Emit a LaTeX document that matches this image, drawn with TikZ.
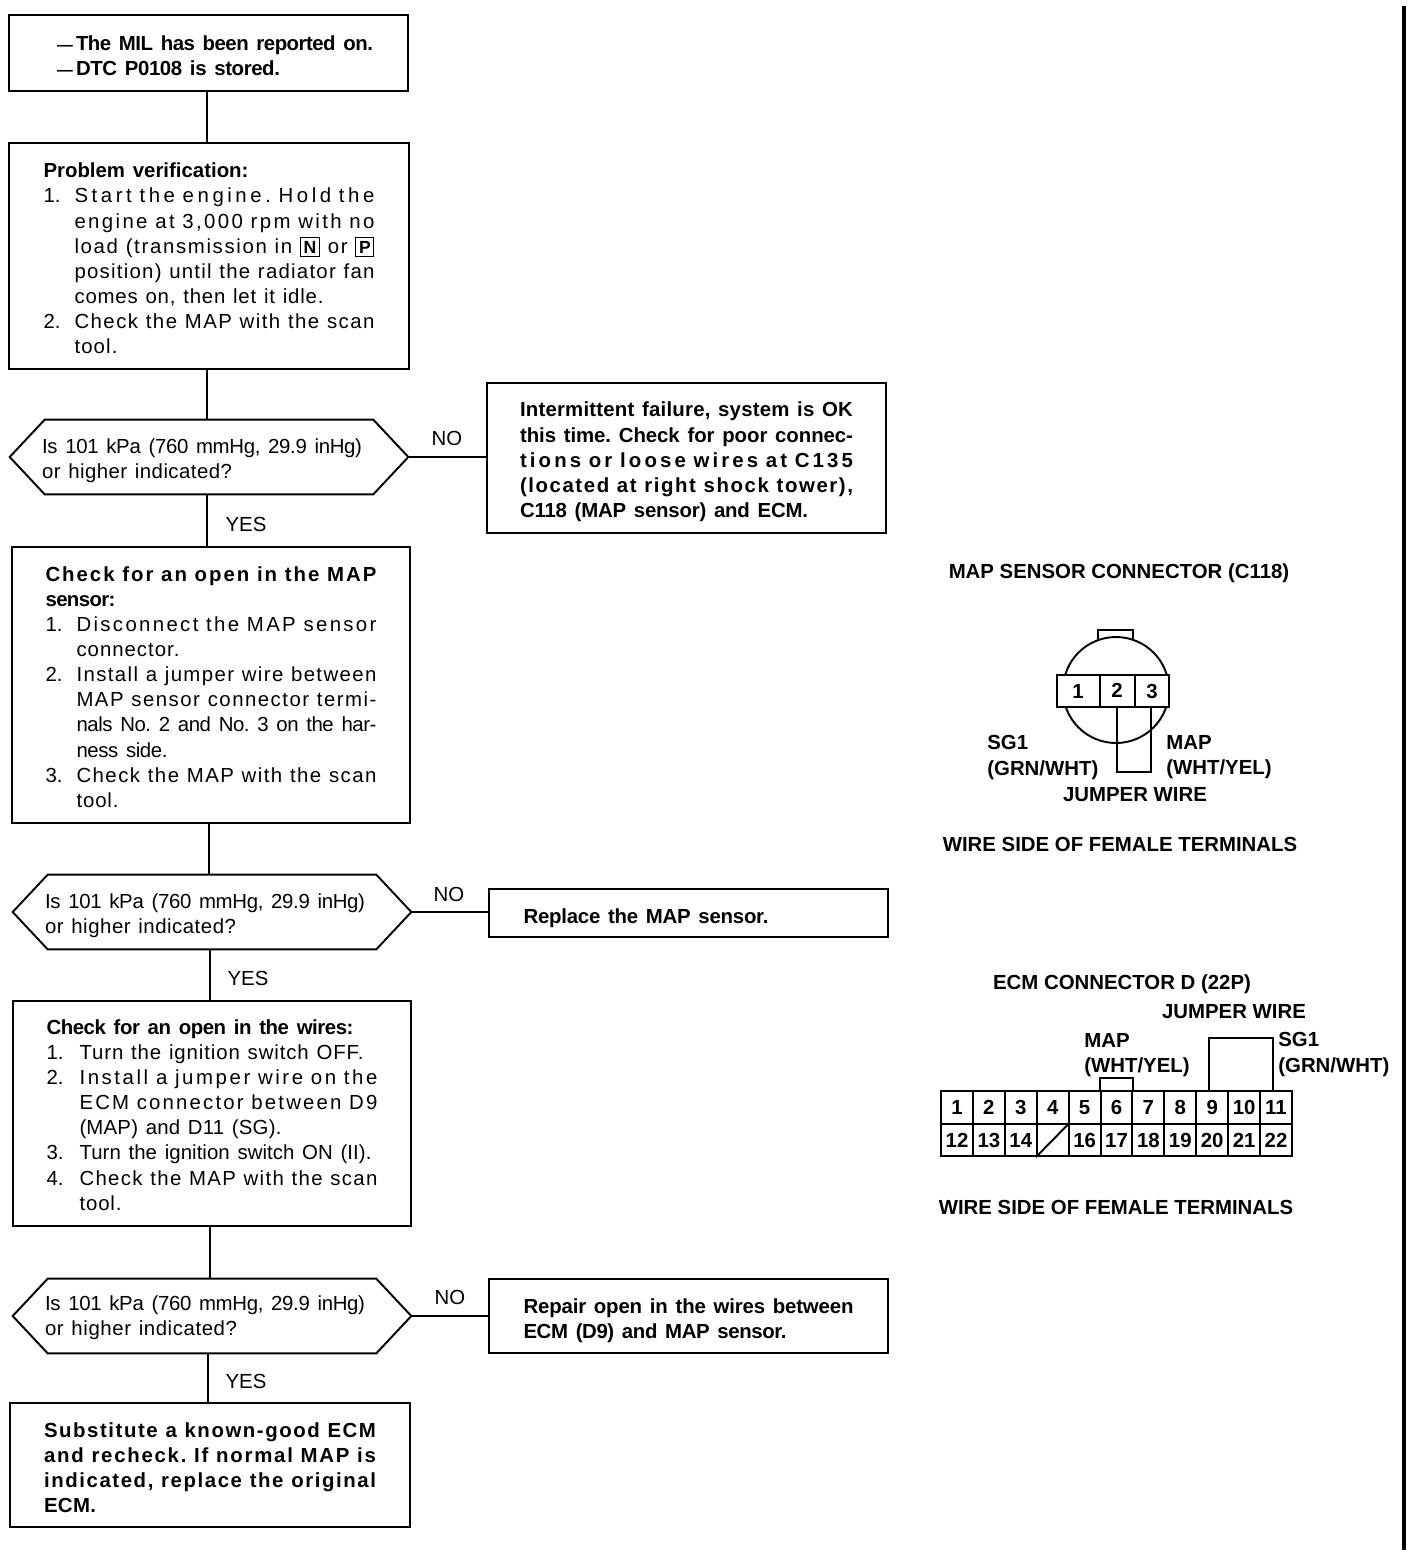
\documentclass[tikz,border=0pt]{standalone}
\usepackage{fontspec}
\setmainfont{Liberation Sans}
\usetikzlibrary{calc}

\newlength{\stepind}
\newlength{\stepwid}
\newlength{\natzero}
\newlength{\natten}
\setlength{\stepind}{0.62cm}
\setlength{\stepwid}{6cm}
\newcommand{\fitrow}[2][\linewidth]{%
    \spaceskip=0.38em\xspaceskip=0.38em%
    \settowidth{\natzero}{#2}%
    \settowidth{\natten}{\addfontfeature{LetterSpace=10}#2}%
    \pgfmathsetmacro{\fitspace}{10*(#1-\natzero)/(\natten-\natzero)}%
    \makebox[#1][l]{\addfontfeature{LetterSpace=\fitspace}#2}}
\newcommand{\steprow}[3][\stepwid]{\makebox[\stepind][l]{#2}\fitrow[#1]{#3}}
\newcommand{\gearbox}[1]{\fbox{\fontsize{10pt}{10pt}\selectfont\bfseries #1}}
\newcommand{\hexdraw}[1]{\draw[boxline] (#1.west)--([xshift=0.7cm]#1.north west)--([xshift=-0.7cm]#1.north east)--(#1.east)--([xshift=-0.7cm]#1.south east)--([xshift=0.7cm]#1.south west)--cycle;}

\setlength{\fboxsep}{1.5pt}
\setlength{\fboxrule}{0.6pt}

\tikzset{
    boxline/.style={line width=1.1pt,line join=miter},
    lower/.style={execute at begin node={\rule{0pt}{\dimexpr 8.4pt+#1\relax}}},
    flowbox/.style={draw,boxline,inner sep=0pt,align=left,font=\fontsize{11.6pt}{14.3pt}\selectfont},
    boldbox/.style={flowbox,font=\fontsize{11.6pt}{14.3pt}\selectfont\bfseries},
    hexnode/.style={inner sep=0pt,align=left,minimum width=7.96cm,minimum height=1.48cm,text width=6.68cm,font=\fontsize{11.6pt}{14.3pt}\selectfont},
    answer/.style={inner sep=0pt,font=\fontsize{11.6pt}{14.3pt}\selectfont},
    caption/.style={inner sep=0pt,font=\fontsize{11.6pt}{14.3pt}\selectfont\bfseries},
    sidetext/.style={inner sep=0pt,anchor=west,align=left,font=\fontsize{11.6pt}{14.3pt}\selectfont\bfseries},
    pincell/.style={draw,boxline,inner sep=0pt,minimum width=0.638cm,minimum height=0.65cm,font=\fontsize{11.6pt}{14.3pt}\selectfont\bfseries},
}

\begin{document}
\begin{tikzpicture}[x=0.02cm,y=-0.02cm]
        \useasboundingbox (0,0) rectangle (1424,1556);

        \node[boldbox,lower=3.4pt,minimum width=7.98cm,minimum height=1.52cm,text width=6.06cm] (mil) at (208.5,53)
        {\makebox[0.38cm][l]{\fontsize{9pt}{9pt}\selectfont ---}\fitrow[5.94cm]{The MIL has been reported on.}\\
        \makebox[0.38cm][l]{\fontsize{9pt}{9pt}\selectfont ---}\fitrow[4.08cm]{DTC P0108 is stored.}};

        \node[flowbox,lower=2.8pt,minimum width=8cm,minimum height=4.52cm,text width=6.62cm] (verify) at (209,256)
        {\textbf{\fitrow[4.1cm]{Problem verification:}}\\
        \steprow{1.}{Start the engine. Hold the}\\
        \steprow{}{engine at 3,000 rpm with no}\\
        \steprow{}{load (transmission in \gearbox{N} or \gearbox{P}}\\
        \steprow{}{position) until the radiator fan}\\
        \steprow[4.98cm]{}{comes on, then let it idle.}\\
        \steprow{2.}{Check the MAP with the scan}\\
        \steprow[0.86cm]{}{tool.}};

        \node[hexnode,lower=4.5pt] (askone) at (209,457)
        {\fitrow[6.4cm]{Is 101 kPa (760 mmHg, 29.9 inHg)}\\ \fitrow[3.8cm]{or higher indicated?}};
        \hexdraw{askone}

        \node[boldbox,lower=4.5pt,minimum width=7.98cm,minimum height=3cm,text width=6.66cm] (intermit) at (686.5,458)
        {\fitrow{Intermittent failure, system is OK}\\
        \fitrow{this time. Check for poor connec-}\\
        \fitrow{tions or loose wires at C135}\\
        \fitrow{(located at right shock tower),}\\
        \fitrow[5.76cm]{C118 (MAP sensor) and ECM.}};

        \node[flowbox,lower=2.3pt,minimum width=7.96cm,minimum height=5.52cm,text width=6.62cm] (sensor) at (211,685)
        {\textbf{\fitrow{Check for an open in the MAP}}\\
        \textbf{\fitrow[1.4cm]{sensor:}}\\
        \steprow{1.}{Disconnect the MAP sensor}\\
        \steprow[2.06cm]{}{connector.}\\
        \steprow{2.}{Install a jumper wire between}\\
        \steprow{}{MAP sensor connector termi-}\\
        \steprow{}{nals No. 2 and No. 3 on the har-}\\
        \steprow[1.82cm]{}{ness side.}\\
        \steprow{3.}{Check the MAP with the scan}\\
        \steprow[0.84cm]{}{tool.}};

        \node[hexnode,lower=4pt] (asktwo) at (212,912)
        {\fitrow[6.4cm]{Is 101 kPa (760 mmHg, 29.9 inHg)}\\ \fitrow[3.82cm]{or higher indicated?}};
        \hexdraw{asktwo}

        \node[boldbox,lower=5.6pt,minimum width=7.98cm,minimum height=0.96cm,text width=6.6cm] (replace) at (688.5,913)
        {\fitrow[4.9cm]{Replace the MAP sensor.}};

        \node[flowbox,lower=1.7pt,minimum width=7.96cm,minimum height=4.5cm,text width=6.62cm] (wires) at (212,1113.5)
        {\setlength{\stepind}{0.66cm}\setlength{\stepwid}{5.96cm}\textbf{\fitrow[6.14cm]{Check for an open in the wires:}}\\
        \steprow[5.68cm]{1.}{Turn the ignition switch OFF.}\\
        \steprow{2.}{Install a jumper wire on the}\\
        \steprow{}{ECM connector between D9}\\
        \steprow[4.04cm]{}{(MAP) and D11 (SG).}\\
        \steprow[5.84cm]{3.}{Turn the ignition switch ON (II).}\\
        \steprow{4.}{Check the MAP with the scan}\\
        \steprow[0.84cm]{}{tool.}};

        \node[hexnode,lower=2pt] (askthree) at (212,1316)
        {\fitrow[6.4cm]{Is 101 kPa (760 mmHg, 29.9 inHg)}\\ \fitrow[3.84cm]{or higher indicated?}};
        \hexdraw{askthree}

        \node[boldbox,lower=5pt,minimum width=7.98cm,minimum height=1.48cm,text width=6.6cm] (repair) at (688.5,1316)
        {\fitrow{Repair open in the wires between}\\ \fitrow[5.26cm]{ECM (D9) and MAP sensor.}};

        \node[boldbox,lower=2.8pt,minimum width=8cm,minimum height=2.48cm,text width=6.64cm] (substitute) at (210,1465)
        {\fitrow{Substitute a known-good ECM}\\
        \fitrow{and recheck. If normal MAP is}\\
        \fitrow{indicated, replace the original}\\
        \fitrow[1.04cm]{ECM.}};

        \draw[boxline] (mil.south -| 207,0)--(verify.north -| 207,0);
        \draw[boxline] (verify.south -| 207,0)--(askone.north -| 207,0);
        \draw[boxline] (askone.south -| 207,0)--(sensor.north -| 207,0);
        \draw[boxline] (sensor.south -| 209,0)--(asktwo.north -| 209,0);
        \draw[boxline] (asktwo.south -| 210,0)--(wires.north -| 210,0);
        \draw[boxline] (wires.south -| 210,0)--(askthree.north -| 210,0);
        \draw[boxline] (askthree.south -| 208,0)--(substitute.north -| 208,0);
        \draw[boxline] (askone.east)--(intermit.west |- askone.east);
        \draw[boxline] (asktwo.east)--(replace.west |- asktwo.east);
        \draw[boxline] (askthree.east)--(repair.west |- askthree.east);

        \node[answer] (noone) at (447,438) {NO};
        \node[answer] (yesone) at (246,524) {YES};
        \node[answer] (notwo) at (449,894) {NO};
        \node[answer] (yestwo) at (248,978) {YES};
        \node[answer] (nothree) at (450,1297) {NO};
        \node[answer] (yesthree) at (246,1381) {YES};

        \node[caption] (mapname) at (1119,573) {MAP SENSOR CONNECTOR (C118)};
        \node[caption] (mapside) at (1120,844) {WIRE SIDE OF FEMALE TERMINALS};

        \draw[boxline] (1116,690) circle (53);
        \draw[boxline] (1098,640)--(1098,630)--(1133,630)--(1133,640);
        \node[draw,boxline,fill=white,inner sep=0pt,minimum width=2.24cm,minimum height=0.64cm] (shell) at (1113,691) {};
        \node[caption] (pinone) at (1078,691) {1};
        \node[caption] (pintwo) at (1117,690) {2};
        \node[caption] (pinthree) at (1152,691) {3};
        \draw[boxline] (1100,675)--(1100,707);
        \draw[boxline] (1135,675)--(1135,707);
        \draw[boxline] (1117,707)--(1117,772)--(1151,772)--(1151,707);

        \node[sidetext] (sgone) at (987,757.5) {SG1\\ (GRN/WHT)};
        \node[sidetext] (mapwire) at (1166,757) {MAP\\ (WHT/YEL)};
        \node[caption] (mapjump) at (1135,795) {JUMPER WIRE};

        \node[caption] (ecmname) at (1122,984) {ECM CONNECTOR D (22P)};
        \node[caption] (ecmjump) at (1234,1012) {JUMPER WIRE};
        \node[sidetext] (ecmmap) at (1084,1055.5) {MAP\\ (WHT/YEL)};
        \node[sidetext] (ecmsg) at (1278,1054.5) {SG1\\ (GRN/WHT)};

        \foreach \n in {1,...,11}
            \node[pincell] (cell\n) at ({957+31.9*(\n-1)},1107.5) {\n};
        \foreach \n/\m in {12/12,13/13,14/14,15/,16/16,17/17,18/18,19/19,20/20,21/21,22/22}
            \node[pincell] (cell\n) at ({957+31.9*(\n-12)},1140) {\m};
        \draw[boxline] (cell15.south west)--(cell15.north east);

        \draw[boxline] (cell6.north west)--++(0,-12)--($(cell6.north east)+(0,-12)$)--(cell6.north east);
        \coordinate (jumpa) at ($(cell9.north)+(-3,0)$);
        \coordinate (jumpb) at ($(cell9.north)+(-3,-52)$);
        \coordinate (jumpc) at ($(cell11.north)+(-3,-52)$);
        \coordinate (jumpd) at ($(cell11.north)+(-3,0)$);
        \draw[boxline] (jumpa)--(jumpb)--(jumpc)--(jumpd);

        \node[caption] (ecmside) at (1116,1207) {WIRE SIDE OF FEMALE TERMINALS};

        \coordinate (railtop) at (1404,6);
        \coordinate (railend) at (1404,1550);
        \draw[line width=2.27pt] (railtop)--(railend);
    \end{tikzpicture}
\end{document}
